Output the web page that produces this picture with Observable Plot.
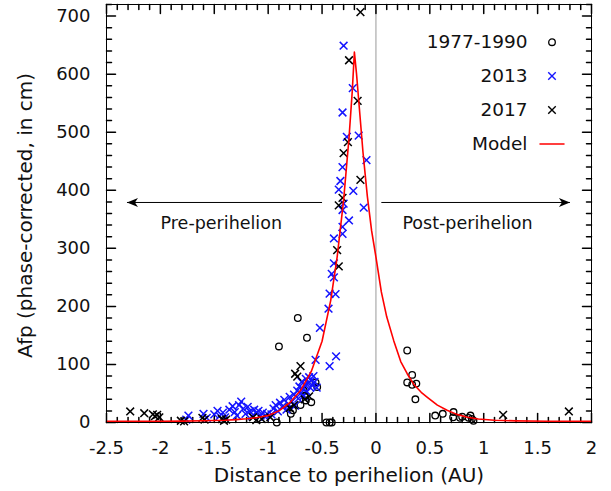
<!DOCTYPE html>
<html>
<head>
<meta charset="utf-8">
<script src="https://cdn.jsdelivr.net/npm/d3@7"></script>
<script src="https://cdn.jsdelivr.net/npm/@observablehq/plot@0.6"></script>
<style>
  html, body { margin: 0; padding: 0; background: #fff; }
</style>
</head>
<body>
<div id="chart"></div>
<script>
// ---- data ----
const series1977 = [
  [-0.92, 0], [-0.90, 131], [-0.79, 15], [-0.77, 21], [-0.725, 180], [-0.70, 30],
  [-0.67, 55], [-0.66, 46], [-0.65, 38], [-0.64, 146], [-0.60, 35], [-0.56, 69],
  [-0.545, 61], [-0.46, 0], [-0.43, 0], [-0.41, 0],
  [0.29, 124], [0.29, 69], [0.336, 82], [0.336, 65], [0.375, 67], [0.366, 40],
  [0.55, 12], [0.62, 15], [0.72, 18], [0.716, 9], [0.78, 8], [0.80, 10],
  [0.86, 8], [0.877, 12], [0.89, 6], [0.905, 3]
];
const series2013 = [
  [-1.76, 5], [-1.74, 12], [-1.60, 15], [-1.57, 8], [-1.50, 14], [-1.47, 20],
  [-1.45, 11], [-1.42, 17], [-1.40, 9], [-1.36, 22], [-1.33, 28], [-1.31, 18],
  [-1.29, 12], [-1.27, 30], [-1.25, 36], [-1.23, 24], [-1.21, 15], [-1.19, 27],
  [-1.17, 19], [-1.15, 11], [-1.13, 22], [-1.11, 16], [-1.09, 20], [-1.07, 12],
  [-1.05, 17], [-1.03, 10], [-1.01, 15], [-0.97, 14], [-0.95, 24], [-0.93, 30],
  [-0.91, 19], [-0.89, 34], [-0.87, 27], [-0.85, 39], [-0.83, 22], [-0.81, 31],
  [-0.80, 44], [-0.78, 36], [-0.76, 48], [-0.75, 29], [-0.73, 55], [-0.72, 41],
  [-0.71, 62], [-0.70, 50], [-0.69, 70], [-0.68, 58], [-0.67, 46], [-0.66, 65],
  [-0.65, 75], [-0.64, 53], [-0.63, 68], [-0.62, 78], [-0.61, 60], [-0.60, 72],
  [-0.59, 64], [-0.58, 80], [-0.57, 70], [-0.56, 108], [-0.55, 60],
  [-0.52, 163], [-0.44, 196], [-0.43, 222], [-0.375, 221], [-0.43, 97],
  [-0.37, 114], [-0.41, 256], [-0.39, 250], [-0.39, 274], [-0.39, 317],
  [-0.31, 325], [-0.31, 337], [-0.25, 348], [-0.31, 366], [-0.113, 370],
  [-0.30, 377], [-0.21, 399], [-0.345, 401], [-0.33, 416], [-0.31, 440],
  [-0.088, 452], [-0.27, 492], [-0.16, 494], [-0.31, 534], [-0.215, 576],
  [-0.30, 649]
];
const series2017 = [
  [-2.28, 19], [-2.15, 16], [-2.07, 14], [-2.05, 11], [-2.03, 13], [-2.01, 9],
  [-1.81, 3], [-1.78, 2], [-1.61, 8], [-1.59, 5], [-1.43, 6], [-1.41, 3],
  [-1.39, 5], [-1.14, 9], [-1.11, 4], [-1.06, 6], [-0.98, 9], [-0.80, 25],
  [-0.76, 30], [-0.75, 84], [-0.73, 79], [-0.70, 97], [-0.66, 40], [-0.62, 45],
  [-0.345, 269], [-0.36, 297], [-0.345, 374], [-0.31, 387], [-0.144, 418],
  [-0.30, 464], [-0.26, 483], [-0.17, 554], [-0.25, 624], [-0.144, 707],
  [1.18, 13], [1.79, 19]
];
const modelX = [-2.5, -2.0, -1.8, -1.6, -1.4, -1.3, -1.2, -1.1, -1.0, -0.9, -0.8,
  -0.7, -0.6, -0.5, -0.42, -0.36, -0.3, -0.25, -0.22, -0.2, -0.18, -0.16, -0.12,
  -0.08, -0.04, 0, 0.05, 0.1, 0.165, 0.23, 0.29, 0.35, 0.42, 0.48, 0.57, 0.66,
  0.75, 0.85, 0.95, 1.1, 1.3, 1.6, 2.0];
const modelY = [2, 2, 2.3, 3, 4, 5, 6.5, 8.5, 12, 20, 34,
  55, 88, 140, 210, 285, 383, 490, 570, 638, 600, 555, 465,
  390, 330, 285, 225, 182, 141, 105, 84, 66, 52, 43, 30, 21,
  14, 9, 6, 3.8, 2.8, 2.2, 2];
const legendLabels = ["1977-1990", "2013", "2017", "Model"];
const xTicks = [-2.5, -2, -1.5, -1, -0.5, 0, 0.5, 1, 1.5, 2];
const yTicks = [0, 100, 200, 300, 400, 500, 600, 700];
const arrows = [
  {x1: -0.5, x2: -2.31, y: 379, angle: 180},
  {x1: 0.05, x2: 1.80, y: 379, angle: 0}
];
const notes = [
  {x: -1.435, y: 343, text: "Pre-perihelion"},
  {x: 0.85, y: 343, text: "Post-perihelion"}
];

// ---- build ----
const model = modelX.map((x, i) => ({x, y: modelY[i]}));
const xMinor = d3.range(-25, 21).map(i => i / 10).filter(v => !xTicks.some(t => Math.abs(t - v) < 1e-9));
const yMinor = d3.range(0, 721, 20).filter(v => v % 100 !== 0);
const line = {draw(ctx, l) { ctx.moveTo(0, 0); ctx.lineTo(0, -l); }};
const head = {draw(ctx) { ctx.moveTo(0, 0); ctx.lineTo(-11, -4.5); ctx.lineTo(-8, 0); ctx.lineTo(-11, 4.5); ctx.closePath(); }};
const blue = "#1414ff";
const xMin = -2.5, xMax = 2, yMin = 0, yMax = 720;

function tickMarks(vals, len) {
  return [
    Plot.vector(vals, {x: d => d, y: yMin, length: len, rotate: 0, anchor: "start", shape: line, stroke: "black"}),
    Plot.vector(vals, {x: d => d, y: yMax, length: len, rotate: 180, anchor: "start", shape: line, stroke: "black"})
  ];
}
function yTickMarks(vals, len) {
  return [
    Plot.vector(vals, {y: d => d, x: xMin, length: len, rotate: 90, anchor: "start", shape: line, stroke: "black"}),
    Plot.vector(vals, {y: d => d, x: xMax, length: len, rotate: -90, anchor: "start", shape: line, stroke: "black"})
  ];
}

const legendMarks = [];
const rowDy = i => 37.7 + i * 33.9;
legendLabels.forEach((lab, i) => {
  legendMarks.push(Plot.text([lab], {frameAnchor: "top-right", dx: -64, dy: rowDy(i), textAnchor: "end", lineAnchor: "middle", text: d => d, fontSize: 18.5, fill: "#111"}));
});
legendMarks.push(Plot.dot([0], {frameAnchor: "top-right", dx: -39.5, dy: rowDy(0), r: 3.3, stroke: "black", strokeWidth: 1.3, fill: "none"}));
legendMarks.push(Plot.dot([0], {frameAnchor: "top-right", dx: -39.5, dy: rowDy(1), r: 3.5, symbol: "times", stroke: blue, strokeWidth: 1.4}));
legendMarks.push(Plot.dot([0], {frameAnchor: "top-right", dx: -39.5, dy: rowDy(2), r: 3.5, symbol: "times", stroke: "black", strokeWidth: 1.4}));
legendMarks.push(Plot.vector([0], {frameAnchor: "top-right", dx: -39.5, dy: rowDy(3), length: 24, rotate: 90, anchor: "middle", shape: line, stroke: "red", strokeWidth: 1.5}));

const chart = Plot.plot({
  width: 611,
  height: 491,
  marginLeft: 106,
  marginRight: 20,
  marginTop: 4,
  marginBottom: 69,
  style: {fontFamily: "DejaVu Sans", fontSize: "18px", background: "white", color: "#111"},
  x: {domain: [xMin, xMax]},
  y: {domain: [yMin, yMax]},
  marks: [
    Plot.ruleX([0], {stroke: "#9a9a9a", strokeWidth: 1}),
    Plot.axisX({ticks: xTicks, tickSize: 0, tickPadding: 18.5, tickFormat: d => String(d), label: null, fontSize: 18}),
    Plot.axisY({ticks: yTicks, tickSize: 0, tickPadding: 16, tickFormat: d => String(d), label: null, fontSize: 18}),
    ...tickMarks(xTicks, 9),
    ...tickMarks(xMinor, 5),
    ...yTickMarks(yTicks, 9),
    ...yTickMarks(yMinor, 5),
    Plot.link(arrows, {x1: "x1", x2: "x2", y1: "y", y2: "y", stroke: "black", strokeWidth: 1}),
    Plot.dot(arrows, {x: "x2", y: "y", symbol: head, rotate: "angle", fill: "black", stroke: "none"}),
    Plot.text(notes, {x: "x", y: "y", text: "text", fontSize: 17.5, fill: "#111"}),
    Plot.dot(series1977, {x: d => d[0], y: d => d[1], r: 3.3, stroke: "black", strokeWidth: 1.3, fill: "none"}),
    Plot.dot(series2013, {x: d => d[0], y: d => d[1], r: 3.6, symbol: "times", stroke: blue, strokeWidth: 1.5}),
    Plot.dot(series2017, {x: d => d[0], y: d => d[1], r: 3.6, symbol: "times", stroke: "black", strokeWidth: 1.5}),
    Plot.line(model, {x: "x", y: "y", stroke: "red", strokeWidth: 1.6}),
    Plot.frame({stroke: "black", strokeWidth: 1}),
    Plot.text(["Distance to perihelion (AU)"], {frameAnchor: "bottom", dy: 53, lineAnchor: "middle", textAnchor: "middle", text: d => d, fontSize: 20, fill: "#111"}),
    Plot.text(["Afp (phase-corrected, in cm)"], {frameAnchor: "left", dx: -81, dy: 2, rotate: -90, lineAnchor: "middle", textAnchor: "middle", text: d => d, fontSize: 20, fill: "#111"}),
    ...legendMarks
  ]
});
document.getElementById("chart").appendChild(chart);
</script>
</body>
</html>
